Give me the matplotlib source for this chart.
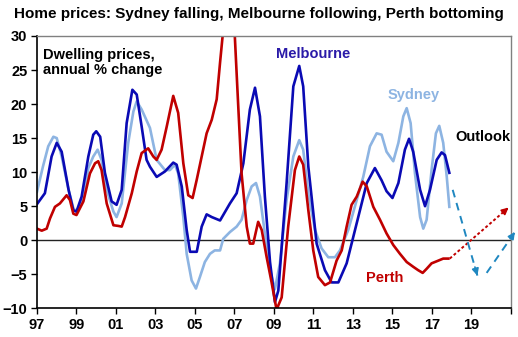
import matplotlib
matplotlib.use("Agg")
import matplotlib.pyplot as plt

plt.rcParams['font.family'] = ['Liberation Sans', 'DejaVu Sans']

# Annual % change in dwelling prices (year as decimal, value in %)
sydney_year = [1997.0, 1997.3, 1997.57, 1997.83, 1998.0, 1998.25, 1998.6, 1998.84, 1999.0,
               1999.35, 1999.6, 1999.85, 2000.07, 2000.27, 2000.53, 2000.87, 2001.03, 2001.29,
               2001.62, 2001.88, 2002.05, 2002.3, 2002.72, 2002.9, 2003.06, 2003.48, 2003.73,
               2003.99, 2004.15, 2004.41, 2004.58, 2004.83, 2005.05, 2005.25, 2005.5, 2005.76,
               2006.0, 2006.27, 2006.43, 2006.77, 2007.11, 2007.36, 2007.62, 2007.87, 2008.09,
               2008.29, 2008.54, 2008.8, 2009.05, 2009.3, 2009.64, 2009.98, 2010.28, 2010.48,
               2010.74, 2011.08, 2011.41, 2011.75, 2012.09, 2012.34, 2012.76, 2013.19, 2013.52,
               2013.86, 2014.2, 2014.45, 2014.7, 2015.04, 2015.3, 2015.55, 2015.72, 2015.92,
               2016.14, 2016.4, 2016.56, 2016.73, 2016.98, 2017.2, 2017.37, 2017.57, 2017.75,
               2017.88]
sydney_val = [7.1, 10.8, 13.8, 15.2, 15.0, 12.3, 7.4, 4.7, 4.2,
              6.2, 10.6, 12.3, 13.3, 11.8, 7.4, 4.2, 3.4, 5.4,
              14.3, 18.9, 20.4, 19.2, 16.5, 14.0, 11.8, 10.3, 10.3,
              11.1, 9.8, 3.4, -2.0, -5.9, -7.1, -5.4, -3.2, -2.0,
              -1.5, -1.5, 0.2, 1.2, 2.0, 3.0, 5.9, 7.9, 8.4,
              6.4, 1.0, -4.4, -7.2, -3.4, 5.9, 12.3, 14.7, 13.3,
              6.9, 1.5, -1.2, -2.5, -2.5, -1.5, 1.5, 5.9, 9.3,
              13.8, 15.7, 15.5, 13.0, 11.6, 14.3, 18.2, 19.4, 17.2,
              9.8, 3.4, 1.7, 3.0, 10.3, 15.7, 16.8, 14.3, 9.3,
              4.9]

melb_year = [1997.0, 1997.4, 1997.74, 1998.0, 1998.25, 1998.6, 1998.84, 1999.0, 1999.26,
             1999.6, 1999.85, 2000.0, 2000.2, 2000.44, 2000.78, 2001.03, 2001.29, 2001.54,
             2001.83, 2002.05, 2002.3, 2002.55, 2002.72, 2003.06, 2003.48, 2003.9, 2004.07,
             2004.33, 2004.58, 2004.75, 2005.09, 2005.34, 2005.59, 2005.85, 2006.27, 2006.77,
             2007.11, 2007.45, 2007.78, 2008.04, 2008.29, 2008.54, 2008.8, 2009.05, 2009.22,
             2009.64, 2009.98, 2010.28, 2010.48, 2010.74, 2011.16, 2011.58, 2011.92, 2012.26,
             2012.68, 2013.19, 2013.7, 2014.11, 2014.45, 2014.7, 2015.0, 2015.3, 2015.63,
             2015.84, 2016.05, 2016.4, 2016.65, 2016.9, 2017.24, 2017.49, 2017.66, 2017.88]
melb_val = [5.3, 6.9, 12.3, 14.3, 13.0, 7.4, 4.4, 4.2, 6.4,
            12.3, 15.5, 16.0, 15.2, 9.9, 5.7, 5.2, 7.4, 17.2,
            22.1, 21.4, 16.7, 11.8, 10.8, 9.3, 10.1, 11.4, 11.1,
            7.9, 1.5, -1.7, -1.7, 2.0, 3.8, 3.4, 2.9, 5.4,
            6.9, 11.3, 19.2, 22.4, 18.2, 6.4, -3.2, -9.1, -7.4,
            8.4, 22.6, 25.6, 22.6, 10.8, -0.5, -4.4, -6.2, -6.2,
            -3.4, 2.5, 8.4, 10.6, 8.8, 7.2, 6.2, 8.4, 13.3,
            14.9, 13.0, 7.4, 5.0, 7.4, 11.8, 12.9, 12.5, 9.9]

perth_year = [1997.0, 1997.24, 1997.49, 1997.66, 1997.91, 1998.16, 1998.5, 1998.67, 1998.84,
              1999.0, 1999.35, 1999.68, 1999.94, 2000.1, 2000.27, 2000.53, 2000.87, 2001.12,
              2001.29, 2001.46, 2001.8, 2002.05, 2002.3, 2002.63, 2002.89, 2003.06, 2003.31,
              2003.57, 2003.9, 2004.15, 2004.41, 2004.66, 2004.88, 2005.09, 2005.34, 2005.59,
              2005.85, 2006.1, 2006.27, 2006.45, 2006.65, 2006.85, 2007.0, 2007.15, 2007.36,
              2007.62, 2007.78, 2007.95, 2008.2, 2008.38, 2008.63, 2008.88, 2009.13, 2009.39,
              2009.72, 2010.06, 2010.28, 2010.48, 2010.74, 2010.99, 2011.24, 2011.58, 2011.84,
              2012.17, 2012.43, 2012.68, 2012.93, 2013.19, 2013.49, 2013.7, 2014.03, 2014.37,
              2014.7, 2015.04, 2015.38, 2015.72, 2016.05, 2016.3, 2016.53, 2016.73, 2016.98,
              2017.32, 2017.57, 2017.83]
perth_val = [1.7, 1.4, 1.7, 3.2, 4.9, 5.4, 6.6, 5.9, 3.9,
             3.7, 5.7, 9.8, 11.3, 11.6, 10.3, 5.4, 2.2, 2.1,
             2.0, 3.4, 6.9, 10.1, 12.8, 13.5, 12.3, 11.8, 13.3,
             16.7, 21.2, 18.7, 11.3, 6.6, 6.2, 8.9, 12.3, 15.7,
             17.7, 20.7, 26.1, 31.5, 35.5, 35.0, 31.0, 22.1, 9.8,
             2.0, -0.5, -0.5, 2.7, 1.5, -2.5, -6.2, -10.2, -8.4,
             2.0, 10.3, 12.3, 11.1, 4.4, -1.5, -5.4, -6.6, -6.2,
             -3.0, -1.5, 2.0, 5.2, 6.4, 8.6, 7.9, 4.9, 3.0,
             1.0, -0.7, -2.0, -3.2, -3.9, -4.4, -4.8, -4.2, -3.4,
             -3.0, -2.7, -2.7]

# Outlook paths: (start year, start %, end year, end %)
perth_outlook = [(2017.9, -2.7, 2020.88, 4.8)]
syd_melb_outlook = [(2018.05, 7.4, 2019.3, -5.2), (2019.77, -4.8, 2021.2, 1.2)]

x_ticks = list(range(1997, 2022, 2))
x_labels = [f"{y % 100:02d}" for y in x_ticks[:-1]] + [""]
y_ticks = list(range(-10, 31, 5))

C_SYD = "#8db4e2"
C_MELB = "#0a0ab4"
C_PERTH = "#c00000"
C_OUT = "#1f87c0"

fig = plt.figure(figsize=(5.18, 3.37), dpi=100)
ax = fig.add_axes([0.0714, 0.0852, 0.915, 0.808])

ax.plot(sydney_year, sydney_val, color=C_SYD, lw=1.9, solid_joinstyle='round')
ax.plot(melb_year, melb_val, color=C_MELB, lw=1.9, solid_joinstyle='round')
ax.plot(perth_year, perth_val, color=C_PERTH, lw=1.9, solid_joinstyle='round')

ax.axhline(0, color="#222222", lw=1.0, zorder=1)


def outlook_arrow(x0, y0, x1, y1, color, dash):
    ax.plot([x0, x1], [y0, y1], color=color, lw=1.4, linestyle=dash, clip_on=False)
    fx = x0 + (x1 - x0) * 0.9
    fy = y0 + (y1 - y0) * 0.9
    ax.annotate("", xy=(x1, y1), xytext=(fx, fy),
                arrowprops=dict(arrowstyle="-|>", color=color, lw=1.2,
                                mutation_scale=10, shrinkA=0, shrinkB=0),
                annotation_clip=False)


for x0, y0, x1, y1 in perth_outlook:
    outlook_arrow(x0, y0, x1, y1, C_PERTH, (0, (1.5, 1.2)))
for x0, y0, x1, y1 in syd_melb_outlook:
    outlook_arrow(x0, y0, x1, y1, C_OUT, (0, (4, 3)))

ax.set_xlim(1997, 2021)
ax.set_ylim(-10, 30)
ax.set_xticks(x_ticks)
ax.set_xticklabels(x_labels)
ax.set_yticks(y_ticks)
ax.tick_params(axis='both', direction='out', length=4, width=1, labelsize=10.5,
               color="black", pad=3)
for lab in ax.get_xticklabels() + ax.get_yticklabels():
    lab.set_fontweight('bold')

for side in ("top", "right"):
    ax.spines[side].set_color("#808080")
    ax.spines[side].set_linewidth(1.0)
for side in ("left", "bottom"):
    ax.spines[side].set_color("black")
    ax.spines[side].set_linewidth(1.2)

fig.text(0.5, 0.958, "Home prices: Sydney falling, Melbourne following, Perth bottoming",
         ha="center", va="center", fontsize=11, fontweight="bold")

ax.text(0.012, 0.955, "Dwelling prices,\nannual % change", transform=ax.transAxes,
        ha="left", va="top", fontsize=10.5, fontweight="bold", linespacing=1.1)
ax.text(2011.0, 27.3, "Melbourne", color="#2a1aa8", fontsize=10.5, fontweight="bold",
        ha="center", va="center")
ax.text(2016.05, 21.4, "Sydney", color=C_SYD, fontsize=10.5, fontweight="bold",
        ha="center", va="center")
ax.text(2019.6, 15.1, "Outlook", color="black", fontsize=10.5, fontweight="bold",
        ha="center", va="center")
ax.text(2014.6, -5.6, "Perth", color=C_PERTH, fontsize=10.5, fontweight="bold",
        ha="center", va="center")

fig.savefig("out.png", dpi=100)
